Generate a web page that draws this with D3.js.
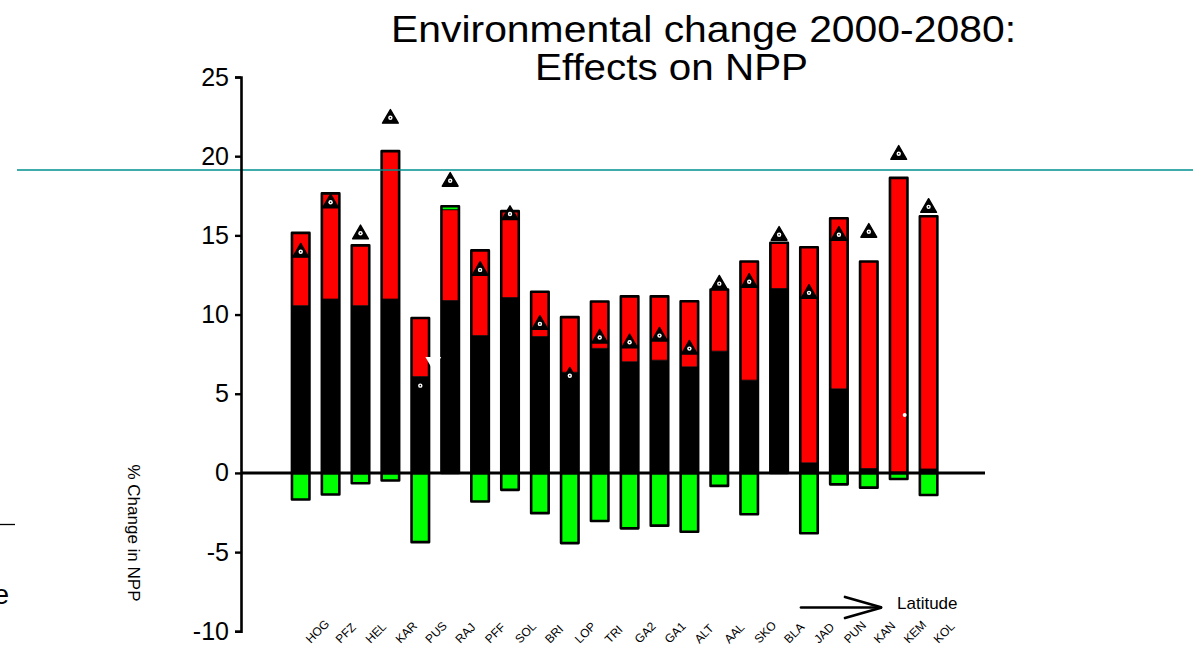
<!DOCTYPE html>
<html>
<head>
<meta charset="utf-8">
<script src="https://cdn.jsdelivr.net/npm/d3@7"></script>
<style>
  html, body { margin: 0; padding: 0; background: #ffffff; }
  svg { display: block; font-family: "Liberation Sans", Arial, Helvetica, sans-serif; }
</style>
</head>
<body>
<svg id="chart" width="1203" height="664"></svg>
<script>
// Sites, ordered by latitude
const sites = ["HOG","PFZ","HEL","KAR","PUS","RAJ","PFF","SOL","BRI","LOP","TRI",
               "GA2","GA1","ALT","AAL","SKO","BLA","JAD","PUN","KAN","KEM","KOL"];

// % change in NPP, stacked components (black, red, green above, green below)
const baseEffect     = [10.56,10.98,10.56,10.98,6.08,10.88,8.67,11.07,8.61,6.36,7.87,
                        7.02,7.12,6.70,7.69,5.86,11.65,0.64,5.31,0.28,0.00,0.25];
const climateEffect  = [4.60,6.67,3.81,9.34,3.70,5.74,5.38,5.46,2.83,3.48,2.95,
                        4.13,4.03,4.14,3.89,7.49,2.88,13.61,10.77,13.07,18.63,15.96];
const positiveExtra  = [0,0,0,0,0,0.22,0,0,0,0,0,0,0,0,0,0,0,0,0,0,0,0];
const negativeEffect = [-1.68,-1.36,-0.65,-0.48,-4.37,0,-1.80,-1.07,-2.54,-4.43,-3.04,
                        -3.50,-3.33,-3.71,-0.82,-2.61,0,-3.81,-0.72,-0.93,-0.38,-1.39];

// Combined simulation result per site (triangle markers)
const combinedEffect = [13.97,17.09,15.13,22.43,5.51,18.45,12.82,16.35,9.41,6.14,8.55,
                        8.25,8.67,7.85,11.95,12.07,15.04,11.37,15.04,15.23,20.15,16.80];

// Stray white markers
const whiteTriangleSite = "PUS", whiteTriangleValue = 7.03;
const whiteDotSite = "KEM", whiteDotValue = 3.66;

const yTicks = [-10, -5, 0, 5, 10, 15, 20, 25];
const titleLines = ["Environmental change 2000-2080:", "Effects on NPP"];
const yLabel = "% Change in NPP";
const arrowLabel = "Latitude";
const referenceLevel = 19.13;

const svg = d3.select("#chart");

const x = d3.scaleBand()
  .domain(sites)
  .range([285.75, 943.55])
  .paddingInner(0.415)
  .paddingOuter(0.2075);

const y = d3.scaleLinear().domain([-10, 25]).range([631.3, 77]);

const bw = x.bandwidth();
const cx = s => x(s) + bw / 2;

const rows = sites.map((s, i) => {
  const b = baseEffect[i], r = b + climateEffect[i], g = r + positiveExtra[i];
  return { site: s, base: b, red: r, top: g, neg: negativeEffect[i], comb: combinedEffect[i] };
});

// Title
const title = svg.append("g").attr("fill", "#000").attr("font-size", 37);
title.append("text").attr("x", 391).attr("y", 42)
  .attr("textLength", 625).attr("lengthAdjust", "spacingAndGlyphs").text(titleLines[0]);
title.append("text").attr("x", 535).attr("y", 80)
  .attr("textLength", 273).attr("lengthAdjust", "spacingAndGlyphs").text(titleLines[1]);

// Bars: stacked segments
const bars = svg.append("g");
const seg = (s, v0, v1, fill) => {
  if (Math.abs(v1 - v0) < 1e-6) return;
  bars.append("rect")
    .attr("x", x(s)).attr("width", bw)
    .attr("y", y(Math.max(v0, v1)))
    .attr("height", Math.abs(y(v0) - y(v1)))
    .attr("fill", fill)
    .attr("stroke", fill === "#000000" ? "none" : "#000").attr("stroke-width", 0.8);
};
rows.forEach(d => {
  seg(d.site, 0, d.base, "#000000");
  seg(d.site, d.base, d.red, "#ff0000");
  seg(d.site, d.red, d.top, "#00ff00");
  seg(d.site, d.neg, 0, "#00ff00");
});

// Outlines around positive and negative stacks
const outlines = svg.append("g").attr("fill", "none").attr("stroke", "#000")
  .attr("stroke-width", 2.6).attr("stroke-linejoin", "round");
rows.forEach(d => {
  outlines.append("rect").attr("x", x(d.site)).attr("width", bw)
    .attr("y", y(d.top)).attr("height", y(0) - y(d.top));
  if (d.neg < 0) {
    outlines.append("rect").attr("x", x(d.site)).attr("width", bw)
      .attr("y", y(0)).attr("height", y(d.neg) - y(0));
  }
});

// Zero line
svg.append("line")
  .attr("x1", 241).attr("x2", 985)
  .attr("y1", y(0)).attr("y2", y(0))
  .attr("stroke", "#000").attr("stroke-width", 3);

// Combined-effect markers
const tri = d3.symbol(d3.symbolTriangle, 108);
const markers = svg.append("g");
rows.forEach(d => {
  markers.append("path").attr("d", tri())
    .attr("transform", `translate(${cx(d.site)},${y(d.comb) + 0.9})`)
    .attr("fill", "#000").attr("stroke", "#000").attr("stroke-width", 1.4)
    .attr("stroke-linejoin", "round");
  markers.append("circle").attr("cx", cx(d.site)).attr("cy", y(d.comb)).attr("r", 2.2).attr("fill", "#fff");
  markers.append("circle").attr("cx", cx(d.site)).attr("cy", y(d.comb)).attr("r", 0.8).attr("fill", "#000");
});

// Stray white marks
markers.append("path").attr("d", tri())
  .attr("transform", `translate(${cx(whiteTriangleSite) + 13},${y(whiteTriangleValue)}) rotate(180)`)
  .attr("fill", "#fff");
markers.append("circle").attr("cx", cx(whiteDotSite) + 6).attr("cy", y(whiteDotValue))
  .attr("r", 2).attr("fill", "#fff");

// Reference line
svg.append("line")
  .attr("x1", 17).attr("x2", 1193)
  .attr("y1", y(referenceLevel)).attr("y2", y(referenceLevel))
  .attr("stroke", "#008f8f").attr("stroke-width", 1.4);

// Y axis
const yAxis = svg.append("g").attr("transform", "translate(241,0)")
  .call(d3.axisLeft(y).tickValues(yTicks).tickSize(6).tickPadding(6).tickFormat(d => String(d)));
yAxis.select(".domain").attr("stroke", "#000").attr("stroke-width", 2.6);
yAxis.selectAll(".tick line").attr("stroke", "#000").attr("stroke-width", 2.4);
yAxis.selectAll(".tick text").attr("fill", "#000").attr("font-size", 25)
  .attr("font-family", "Liberation Sans, Arial, sans-serif");

// Y axis title
svg.append("text")
  .attr("transform", "translate(128,533) rotate(90)")
  .attr("text-anchor", "middle").attr("font-size", 17).attr("fill", "#000")
  .text(yLabel);

// Site labels
svg.append("g").selectAll("text").data(sites).join("text")
  .attr("transform", s => `translate(${cx(s) + 10},644) rotate(-45)`)
  .attr("font-size", 12).attr("fill", "#000")
  .text(s => s);

// Latitude arrow
const arrow = svg.append("g").attr("stroke", "#000").attr("stroke-width", 2.7)
  .attr("stroke-linecap", "round").attr("fill", "none");
arrow.append("line").attr("x1", 801).attr("y1", 607.5).attr("x2", 880).attr("y2", 607.5);
arrow.append("line").attr("x1", 845).attr("y1", 597).attr("x2", 881).attr("y2", 607.3);
arrow.append("line").attr("x1", 845).attr("y1", 618).attr("x2", 881).attr("y2", 607.7);
svg.append("text").attr("x", 897).attr("y", 609).attr("font-size", 17).attr("fill", "#000")
  .text(arrowLabel);

// Left-margin fragments
svg.append("line").attr("x1", 0).attr("x2", 15).attr("y1", 524.5).attr("y2", 524.5)
  .attr("stroke", "#000").attr("stroke-width", 1.3);
svg.append("text").attr("x", 9).attr("y", 604).attr("text-anchor", "end")
  .attr("font-size", 28).attr("fill", "#000").text("e");
</script>
</body>
</html>
